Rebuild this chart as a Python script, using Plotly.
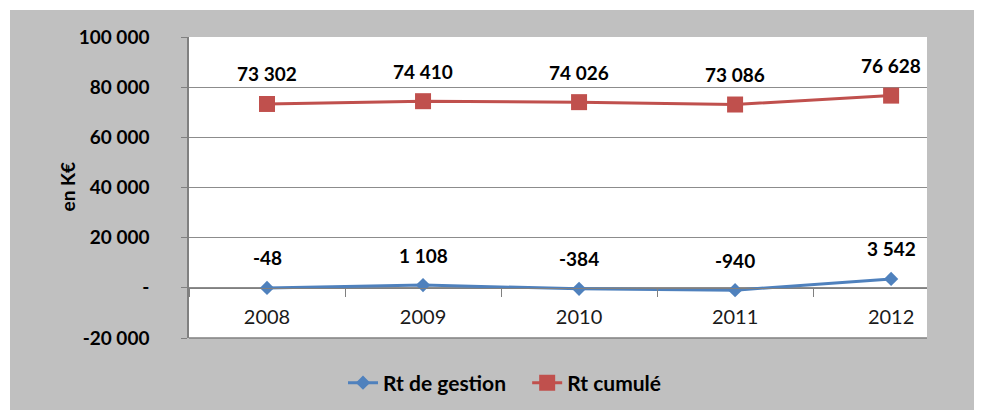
import plotly.graph_objects as go

years = ["2008", "2009", "2010", "2011", "2012"]
rt_gestion = [-48, 1108, -384, -940, 3542]
rt_cumule = [73302, 74410, 74026, 73086, 76628]
y_tickvals = [-20000, 0, 20000, 40000, 60000, 80000, 100000]
y_ticktext = ["-20 000", "-", "20 000", "40 000", "60 000", "80 000", "100 000"]

BLUE = "#4F81BD"
RED = "#C0504D"
GREY_BG = "#C0C0C0"
GRID = "#8C8C8C"
FONT = "Lato"


def fmt(v):
    s = f"{abs(v):,}".replace(",", " ")
    return ("-" if v < 0 else "") + s


fig = go.Figure()
fig.add_trace(go.Scatter(
    x=years, y=rt_gestion, name="<b>Rt de gestion</b>   ", mode="lines+markers",
    line=dict(color=BLUE, width=3),
    marker=dict(symbol="diamond", size=11, color=BLUE),
))
fig.add_trace(go.Scatter(
    x=years, y=rt_cumule, name="<b>Rt cumulé</b>", mode="lines+markers",
    line=dict(color=RED, width=3),
    marker=dict(symbol="square", size=16, color=RED),
))

annotations = []
for series in (rt_gestion, rt_cumule):
    for i, v in enumerate(series):
        annotations.append(dict(
            x=i, y=v, xref="x", yref="y", text=f"<b>{fmt(v)}</b>",
            showarrow=False, yshift=30,
            font=dict(family=FONT, size=19, color="black"),
        ))

# page has an 8px body margin: figure coordinates = page coordinates - 8
W, H = 974, 402
L, R, T, B = 181, 55, 29, 72
pw, ph = W - L - R, H - T - B


def px_to_paper_x(px):
    return (px - L) / pw


def px_to_paper_y(py):
    return (H - B - py) / ph


annotations.append(dict(
    x=px_to_paper_x(45), y=px_to_paper_y(179), xref="paper", yref="paper",
    text="<b>en K€</b>", textangle=-90, showarrow=False,
    font=dict(family=FONT, size=19, color="black"),
))

shapes = [
    dict(type="rect", xref="paper", yref="paper", layer="below",
         x0=px_to_paper_x(2), x1=px_to_paper_x(W + 5),
         y0=px_to_paper_y(H + 5), y1=px_to_paper_y(2),
         fillcolor=GREY_BG, line=dict(width=0)),
    dict(type="rect", xref="paper", yref="paper", layer="below",
         x0=0, x1=1, y0=0, y1=1, fillcolor="white", line=dict(width=0)),
    dict(type="line", xref="paper", yref="paper", x0=0, x1=1, y0=0, y1=0,
         line=dict(color="#808080", width=1.5)),
]

zero_pos = (0 - (-20000)) / 120000

fig.update_layout(
    width=W, height=H,
    margin=dict(l=L, r=R, t=T, b=B, pad=0, autoexpand=False),
    paper_bgcolor="white", plot_bgcolor="rgba(0,0,0,0)",
    showlegend=True,
    legend=dict(orientation="h", x=px_to_paper_x(497), y=px_to_paper_y(375),
                xanchor="center", yanchor="middle",
                font=dict(family=FONT, size=21, color="black"),
                bgcolor="rgba(0,0,0,0)"),
    annotations=annotations,
    shapes=shapes,
    xaxis=dict(
        type="category", range=[-0.5, 4.23], automargin=False,
        anchor="free", position=zero_pos,
        showline=True, linecolor="#808080", linewidth=1,
        ticks="outside", ticklen=8, tickcolor="#808080", tickson="boundaries",
        showgrid=False, ticklabelstandoff=11,
        tickfont=dict(family=FONT, size=20, color="#1a1a1a"),
    ),
    yaxis=dict(
        range=[-20000, 100000], tickvals=y_tickvals, automargin=False,
        ticktext=[f"<b>{t}</b>" for t in y_ticktext],
        showline=True, linecolor="#808080", linewidth=1.5,
        ticks="outside", ticklen=6, tickcolor="#808080",
        showgrid=True, gridcolor=GRID, gridwidth=1,
        zeroline=False, ticklabelstandoff=28,
        tickfont=dict(family=FONT, size=19, color="black"),
    ),
)

fig.write_html("out.html")
